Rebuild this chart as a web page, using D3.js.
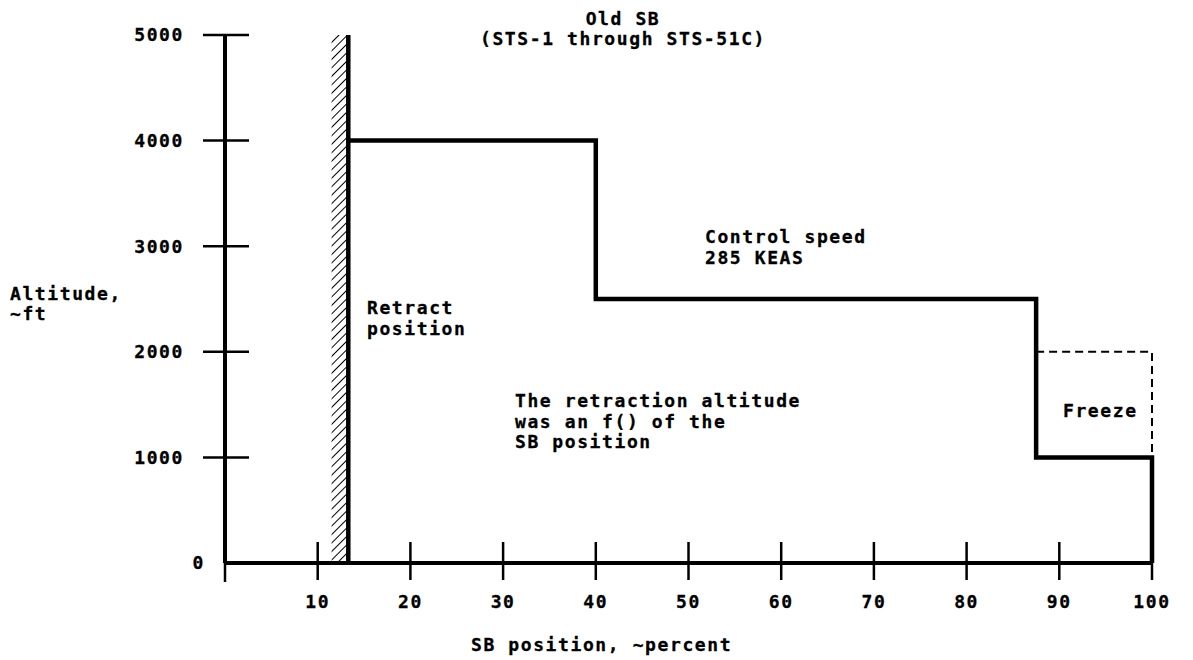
<!DOCTYPE html>
<html>
<head>
<meta charset="utf-8">
<script src="https://cdn.jsdelivr.net/npm/d3@7"></script>
<style>
  body { margin: 0; background: #fff; }
  text { font-family: "DejaVu Sans Mono", "Liberation Mono", monospace; font-weight: bold; font-size: 18px; letter-spacing: 1.6px; fill: #000; stroke: #000; stroke-width: 0.3px; }
</style>
</head>
<body>
<svg id="chart"></svg>
<script>
// SB position (percent) and altitude (ft)
const xTicks = [10, 20, 30, 40, 50, 60, 70, 80, 90, 100];
const yTicks = [0, 1000, 2000, 3000, 4000, 5000];
const retractPos = 13.3;          // solid retract line
const hatchFrom = 11.5;           // left edge of hatched band
// control speed schedule: altitude steps down at each SB position
const stepPos = [13.3, 40, 87.5, 100];
const stepAlt = [4000, 2500, 1000, 0];
// freeze region (dashed)
const freezePos = [87.5, 100, 100];
const freezeAlt = [2000, 2000, 1000];

const W = 1193, H = 660;
const svg = d3.select("#chart").attr("width", W).attr("height", H);

const x = d3.scaleLinear().domain([0, 100]).range([225, 1152]);
const y = d3.scaleLinear().domain([0, 5000]).range([563, 35]);

// hatch pattern
const defs = svg.append("defs");
defs.append("pattern")
  .attr("id", "hatch")
  .attr("patternUnits", "userSpaceOnUse")
  .attr("width", 6).attr("height", 6)
  .attr("patternTransform", "rotate(45)")
 .append("line")
  .attr("x1", 0).attr("y1", 0).attr("x2", 0).attr("y2", 6)
  .attr("stroke", "#000").attr("stroke-width", 2);

svg.append("rect")
  .attr("x", x(hatchFrom))
  .attr("y", y(5000))
  .attr("width", x(retractPos) - x(hatchFrom))
  .attr("height", y(0) - y(5000))
  .attr("fill", "url(#hatch)");

// axes (drawn by hand to match the old style ticks)
const g = svg.append("g");

g.append("line")
  .attr("x1", x(0)).attr("x2", x(0))
  .attr("y1", y(5000)).attr("y2", y(0))
  .attr("stroke", "#000").attr("stroke-width", 4);

g.append("line")
  .attr("x1", x(0)).attr("x2", x(100))
  .attr("y1", y(0)).attr("y2", y(0))
  .attr("stroke", "#000").attr("stroke-width", 4);

g.selectAll(".ytick").data(yTicks.filter(d => d > 0)).enter()
  .append("line")
  .attr("class", "ytick")
  .attr("x1", x(0) - 22).attr("x2", x(0) + 24)
  .attr("y1", d => y(d)).attr("y2", d => y(d))
  .attr("stroke", "#000").attr("stroke-width", 2.5);

g.selectAll(".ylab").data(yTicks).enter()
  .append("text")
  .attr("class", "ylab")
  .attr("x", d => d === 0 ? 205 : 184)
  .attr("y", d => y(d))
  .attr("dy", "0.35em")
  .attr("text-anchor", "end")
  .text(d => d);

// small tick below origin
g.append("line")
  .attr("x1", x(0)).attr("x2", x(0))
  .attr("y1", y(0)).attr("y2", y(0) + 19)
  .attr("stroke", "#000").attr("stroke-width", 2.5);

g.selectAll(".xtick").data(xTicks).enter()
  .append("line")
  .attr("class", "xtick")
  .attr("x1", d => x(d)).attr("x2", d => x(d))
  .attr("y1", y(0) - 21).attr("y2", y(0) + 17)
  .attr("stroke", "#000").attr("stroke-width", 2.5);

g.selectAll(".xlab").data(xTicks).enter()
  .append("text")
  .attr("class", "xlab")
  .attr("x", d => x(d))
  .attr("y", 608)
  .attr("text-anchor", "middle")
  .text(d => d);

// retract line
svg.append("line")
  .attr("x1", x(retractPos)).attr("x2", x(retractPos))
  .attr("y1", y(5000)).attr("y2", y(0))
  .attr("stroke", "#000").attr("stroke-width", 4.5);

// control speed step line
const stepData = stepPos.map((p, i) => [p, stepAlt[i]]);
svg.append("path")
  .datum(stepData)
  .attr("d", d3.line().x(d => x(d[0])).y(d => y(d[1])).curve(d3.curveStepAfter))
  .attr("fill", "none")
  .attr("stroke", "#000")
  .attr("stroke-width", 4.5)
  .attr("stroke-linejoin", "miter");

// freeze dashed
const freezeData = freezePos.map((p, i) => [p, freezeAlt[i]]);
svg.append("path")
  .datum(freezeData)
  .attr("d", d3.line().x(d => x(d[0])).y(d => y(d[1])))
  .attr("fill", "none")
  .attr("stroke", "#000")
  .attr("stroke-width", 2)
  .attr("stroke-dasharray", "8,5");

// labels
const addText = (lines, px, py, anchor, lh) => {
  const t = svg.append("text").attr("x", px).attr("y", py).attr("text-anchor", anchor || "start");
  lines.forEach((s, i) => {
    t.append("tspan").attr("x", px).attr("y", py + i * (lh || 20)).text(s);
  });
};

addText(["Old SB", "(STS-1 through STS-51C)"], 623, 25, "middle", 20);
addText(["Altitude,", "~ft"], 10, 300, "start", 20);
addText(["Retract", "position"], 367, 314, "start", 21);
addText(["Control speed", "285 KEAS"], 705, 243, "start", 21);
addText(["The retraction altitude", "was an f() of the", "SB position"], 515, 407, "start", 20.5);
addText(["Freeze"], 1063, 417, "start");
addText(["SB position, ~percent"], 471, 651, "start");
</script>
</body>
</html>
